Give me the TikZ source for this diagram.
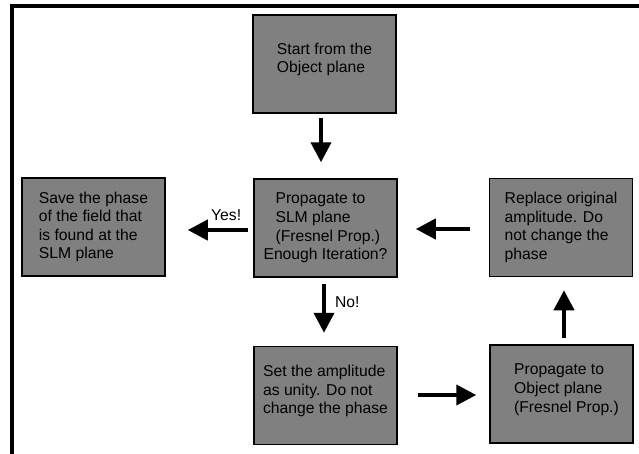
\documentclass[tikz,border=0pt]{standalone}
\usepackage{fontspec}
\setmainfont{Liberation Sans}
\usetikzlibrary{arrows.meta}
\tikzset{>={Triangle[length=20pt,width=20pt]}}
\colorlet{boxgray}{black!50}
\tikzset{
  stage/.style={draw=black, line width=1.5pt, fill=boxgray, minimum width=143pt,
    minimum height=98pt, inner sep=0pt, align=left, font=\fontsize{15.7}{18.6}\selectfont},
  lifted/.style={text depth=12pt},
  flow/.style={->, line width=4pt},
  tag/.style={inner sep=0pt, font=\fontsize{15.7}{18.6}\selectfont}
}

\begin{document}
\begin{tikzpicture}[x=1pt, y=-1pt]
  \useasboundingbox (0,0) rectangle (639,453);

  % Frame, only its left and top sides show
  \draw[line width=4pt] (12,460) -- (12,6) -- (645,6);

  % Steps of the loop
  \node[stage, lifted] (start) at (324.5,64) {Start from the\\Object plane};
  \node[stage] (slm) at (325.5,228) {\hspace{12pt}Propagate to\\\hspace{12pt}SLM plane\\\hspace{12pt}(Fresnel Prop.)\\Enough Iteration?};
  \node[stage] (save) at (93.5,227) {Save the phase\\of the field that\\is found at the\\SLM plane};
  \node[stage] (replace) at (561,227.5) {Replace original\\amplitude. Do\\not change the\\phase};
  \node[stage, lifted] (unity) at (325.5,395.5) {Set the amplitude\\as unity. Do not\\change the phase};
  \node[stage, lifted] (object) at (561.5,394) {\hspace{10pt}Propagate to\\\hspace{10pt}Object plane\\\hspace{10pt}(Fresnel Prop.)};

  % Arrows between the steps
  \draw[flow, shorten <=4pt, shorten >=16pt] ([xshift=-3.5pt]start.south) -- ([xshift=-4.5pt]slm.north);
  \draw[flow, shorten <=5pt, shorten >=22pt] ([yshift=-2pt]slm.west) -- ([yshift=-3pt]save.east)
    node[tag, above=7pt, pos=0.31] (yes) {Yes!};
  \draw[flow, shorten <=6pt, shorten >=13pt] ([xshift=-1.5pt]slm.south) -- ([xshift=-1.5pt]unity.north)
    node[tag, right=9pt, pos=0.36] (no) {No!};
  \draw[flow, shorten <=20pt, shorten >=13pt] ([yshift=0.5pt]unity.east) -- ([yshift=-1pt]object.west);
  \draw[flow, shorten <=6pt, shorten >=13pt] ([xshift=2.5pt]object.north) -- ([xshift=3pt]replace.south);
  \draw[flow, shorten <=19pt, shorten >=18pt] ([yshift=-1.5pt]replace.west) -- ([yshift=-1pt]slm.east);
\end{tikzpicture}
\end{document}
